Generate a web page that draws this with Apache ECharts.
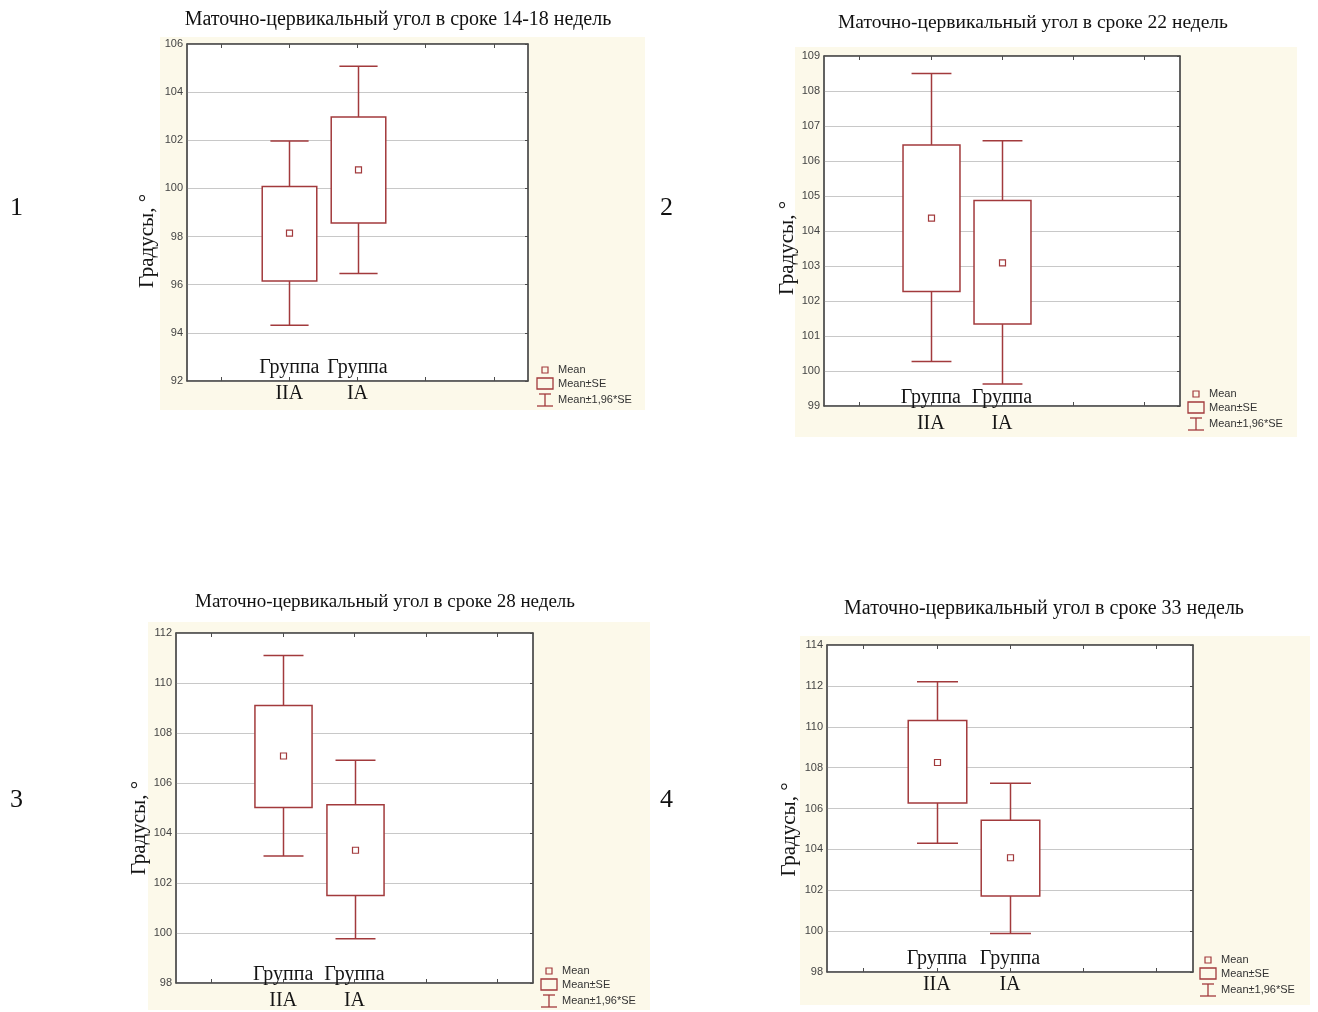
<!DOCTYPE html>
<html>
<head>
<meta charset="utf-8">
<title>Маточно-цервикальный угол</title>
<script src="https://cdn.jsdelivr.net/npm/echarts@6.0.0/dist/echarts.min.js"></script>
<style>
  html, body { margin: 0; padding: 0; background: #fff; }
  #chart { width: 1318px; height: 1012px; }
</style>
</head>
<body>
<div id="chart"></div>
<script>
// x axis has 5 slots like the Statistica plot, groups sit in slots 1 and 2
const slots = ['', 'IIA', 'IA', '', ''];
const groupSlot = [1, 2];

// 14-18 weeks  [IIA, IA]
const mean1 = [98.14, 100.77];
const seLo1 = [96.15, 98.56];
const seHi1 = [100.08, 102.97];
const ciLo1 = [94.32, 96.47];
const ciHi1 = [101.97, 105.08];
// 22 weeks
const mean2 = [104.37, 103.09];
const seLo2 = [102.27, 101.34];
const seHi2 = [106.46, 104.87];
const ciLo2 = [100.27, 99.63];
const ciHi2 = [108.5, 106.58];
// 28 weeks
const mean3 = [107.08, 103.31];
const seLo3 = [105.02, 101.5];
const seHi3 = [109.1, 105.13];
const ciLo3 = [103.08, 99.77];
const ciHi3 = [111.1, 106.91];
// 33 weeks
const mean4 = [108.25, 103.59];
const seLo4 = [106.27, 101.72];
const seHi4 = [110.3, 105.43];
const ciLo4 = [104.3, 99.88];
const ciHi4 = [112.2, 107.24];

const titles = [
  'Маточно-цервикальный угол в сроке 14-18 недель',
  'Маточно-цервикальный угол в сроке 22 недель',
  'Маточно-цервикальный угол в сроке 28 недель',
  'Маточно-цервикальный угол в сроке 33 недель'
];
const yMin = [92, 99, 98, 98];
const yMax = [106, 109, 112, 114];
const yStep = [2, 1, 2, 2];
const yName = 'Градусы, °';
const legendNames = ['Mean', 'Mean±SE', 'Mean±1,96*SE'];
const panelNums = ['1', '2', '3', '4'];

const stats = [
  [mean1, seLo1, seHi1, ciLo1, ciHi1],
  [mean2, seLo2, seHi2, ciLo2, ciHi2],
  [mean3, seLo3, seHi3, ciLo3, ciHi3],
  [mean4, seLo4, seHi4, ciLo4, ciHi4]
];

// pixel layout of each panel
const layout = [
  { left: 187, top: 44, width: 341, height: 337, tx: 393, ty: 5, ts: 20, gap: 29, pad: 57, lm: -26, lg: [545, 370], bg: [160, 37, 485, 373], num: [10, 208] },
  { left: 824, top: 56, width: 356, height: 350, tx: 1028, ty: 8, ts: 19.5, gap: 25, pad: 34, lm: -21, lg: [1196, 394], bg: [795, 47, 502, 390], num: [660, 208] },
  { left: 176, top: 633, width: 357, height: 350, tx: 380, ty: 588, ts: 19, gap: 24, pad: 40, lm: -21, lg: [549, 971], bg: [148, 622, 502, 388], num: [10, 800] },
  { left: 827, top: 645, width: 366, height: 327, tx: 1039, ty: 594, ts: 20, gap: 27, pad: 42, lm: -26, lg: [1208, 960], bg: [800, 636, 510, 369], num: [660, 800] }
];

const RED = '#a23a3c';
const FRAME = '#4d4d4d';
const SERIF = '"Times New Roman", "Liberation Serif", serif';
const SANS = 'Arial, "Liberation Sans", sans-serif';

function renderBox(params, api) {
  const x = api.value(0);
  const band = api.size([1, 0])[0];
  const boxW = band * 0.8;
  const capW = band * 0.56;
  const ciLo = api.coord([x, api.value(1)]);
  const seLo = api.coord([x, api.value(2)]);
  const m = api.coord([x, api.value(3)]);
  const seHi = api.coord([x, api.value(4)]);
  const ciHi = api.coord([x, api.value(5)]);
  const cx = Math.round(m[0]) + 0.5;
  const st = { stroke: RED, lineWidth: 1.5, fill: null };
  return {
    type: 'group',
    children: [
      { type: 'line', shape: { x1: cx, y1: seHi[1], x2: cx, y2: ciHi[1] }, style: st },
      { type: 'line', shape: { x1: cx - capW / 2, y1: ciHi[1], x2: cx + capW / 2, y2: ciHi[1] }, style: st },
      { type: 'line', shape: { x1: cx, y1: seLo[1], x2: cx, y2: ciLo[1] }, style: st },
      { type: 'line', shape: { x1: cx - capW / 2, y1: ciLo[1], x2: cx + capW / 2, y2: ciLo[1] }, style: st },
      { type: 'rect', shape: { x: cx - boxW / 2, y: seHi[1], width: boxW, height: seLo[1] - seHi[1] },
        style: { stroke: RED, lineWidth: 1.5, fill: '#fff' } },
      { type: 'rect', shape: { x: cx - 3, y: m[1] - 3, width: 6, height: 6 },
        style: { stroke: RED, lineWidth: 1.2, fill: '#fff' } }
    ]
  };
}

function legendGroup(p) {
  const txt = (t, y) => ({
    type: 'text', x: 13, y: y,
    style: { text: t, fill: '#333', font: '11px ' + SANS, textVerticalAlign: 'middle', verticalAlign: 'middle' }
  });
  const ln = { stroke: RED, lineWidth: 1.3 };
  return {
    type: 'group', x: p[0], y: p[1],
    children: [
      { type: 'rect', shape: { x: -3, y: -3, width: 6, height: 6 }, style: { stroke: RED, lineWidth: 1.2, fill: 'none' } },
      txt(legendNames[0], 0),
      { type: 'rect', shape: { x: -8, y: 8, width: 16, height: 11 }, style: { stroke: RED, lineWidth: 1.3, fill: 'none' } },
      txt(legendNames[1], 14),
      { type: 'line', shape: { x1: -6, y1: 24, x2: 6, y2: 24 }, style: ln },
      { type: 'line', shape: { x1: 0, y1: 24, x2: 0, y2: 36 }, style: ln },
      { type: 'line', shape: { x1: -8, y1: 36, x2: 8, y2: 36 }, style: ln },
      txt(legendNames[2], 30)
    ]
  };
}

const grids = [], xAxes = [], yAxes = [], series = [], titleList = [], elements = [];

layout.forEach((L, k) => {
  grids.push({
    left: L.left, top: L.top, width: L.width, height: L.height,
    show: true, backgroundColor: '#fff', borderColor: FRAME, borderWidth: 1,
    containLabel: false, outerBoundsMode: 'none'
  });
  titleList.push({
    text: titles[k], left: L.tx, top: L.ty, textAlign: 'center',
    textStyle: { fontFamily: SERIF, fontSize: L.ts, fontWeight: 'normal', color: '#111' }
  });
  xAxes.push({
    type: 'category', gridIndex: k, data: slots, position: 'bottom', boundaryGap: true,
    axisLine: { show: true, lineStyle: { color: FRAME, width: 1.5 } },
    axisTick: { show: true, inside: true, alignWithLabel: true, length: 4, lineStyle: { color: FRAME } },
    axisLabel: {
      interval: 0, margin: L.lm, color: '#151515', fontFamily: SERIF, fontSize: 20, lineHeight: 26,
      formatter: v => (v ? 'Группа\n' + v : '')
    },
    splitLine: { show: false }
  });
  xAxes.push({
    type: 'category', gridIndex: k, data: slots, position: 'top', boundaryGap: true,
    axisLine: { show: true, lineStyle: { color: FRAME, width: 1.5 } },
    axisTick: { show: true, inside: true, alignWithLabel: true, length: 4, lineStyle: { color: FRAME } },
    axisLabel: { show: false },
    splitLine: { show: false }
  });
  yAxes.push({
    type: 'value', gridIndex: k, position: 'left',
    min: yMin[k], max: yMax[k], interval: yStep[k],
    name: yName, nameLocation: 'middle', nameGap: L.gap, nameRotate: 90,
    nameTextStyle: { fontFamily: SERIF, fontSize: 21, color: '#151515', padding: [0, L.pad, 0, 0] },
    axisLine: { show: true, lineStyle: { color: FRAME, width: 1.5 } },
    axisTick: { show: false },
    axisLabel: { margin: 4, color: '#444', fontFamily: SANS, fontSize: 11 },
    splitLine: { show: true, lineStyle: { color: '#c8c8c8', width: 1 } }
  });
  yAxes.push({
    type: 'value', gridIndex: k, position: 'right',
    min: yMin[k], max: yMax[k], interval: yStep[k],
    axisLine: { show: true, lineStyle: { color: FRAME, width: 1.5 } },
    axisTick: { show: true, inside: true, length: 3, lineStyle: { color: FRAME } },
    axisLabel: { show: false },
    splitLine: { show: false }
  });

  const [mean, seLo, seHi, ciLo, ciHi] = stats[k];
  series.push({
    type: 'custom', name: titles[k], xAxisIndex: 2 * k, yAxisIndex: 2 * k,
    renderItem: renderBox,
    encode: { x: 0, y: [1, 2, 3, 4, 5] },
    data: groupSlot.map((s, i) => [s, ciLo[i], seLo[i], mean[i], seHi[i], ciHi[i]]),
    z: 5
  });

  elements.push({
    type: 'rect', z: -10, silent: true,
    shape: { x: L.bg[0], y: L.bg[1], width: L.bg[2], height: L.bg[3] },
    style: { fill: '#fcf9ea' }
  });
  elements.push(legendGroup(L.lg));
  elements.push({
    type: 'text', x: L.num[0], y: L.num[1],
    style: { text: panelNums[k], font: '26px ' + SERIF, fill: '#111', textVerticalAlign: 'middle', verticalAlign: 'middle' }
  });
});

const chart = echarts.init(document.getElementById('chart'), null, { renderer: 'canvas' });
chart.setOption({
  backgroundColor: '#fff',
  animation: false,
  title: titleList,
  grid: grids,
  xAxis: xAxes,
  yAxis: yAxes,
  series: series,
  graphic: { elements: elements }
});
</script>
</body>
</html>
